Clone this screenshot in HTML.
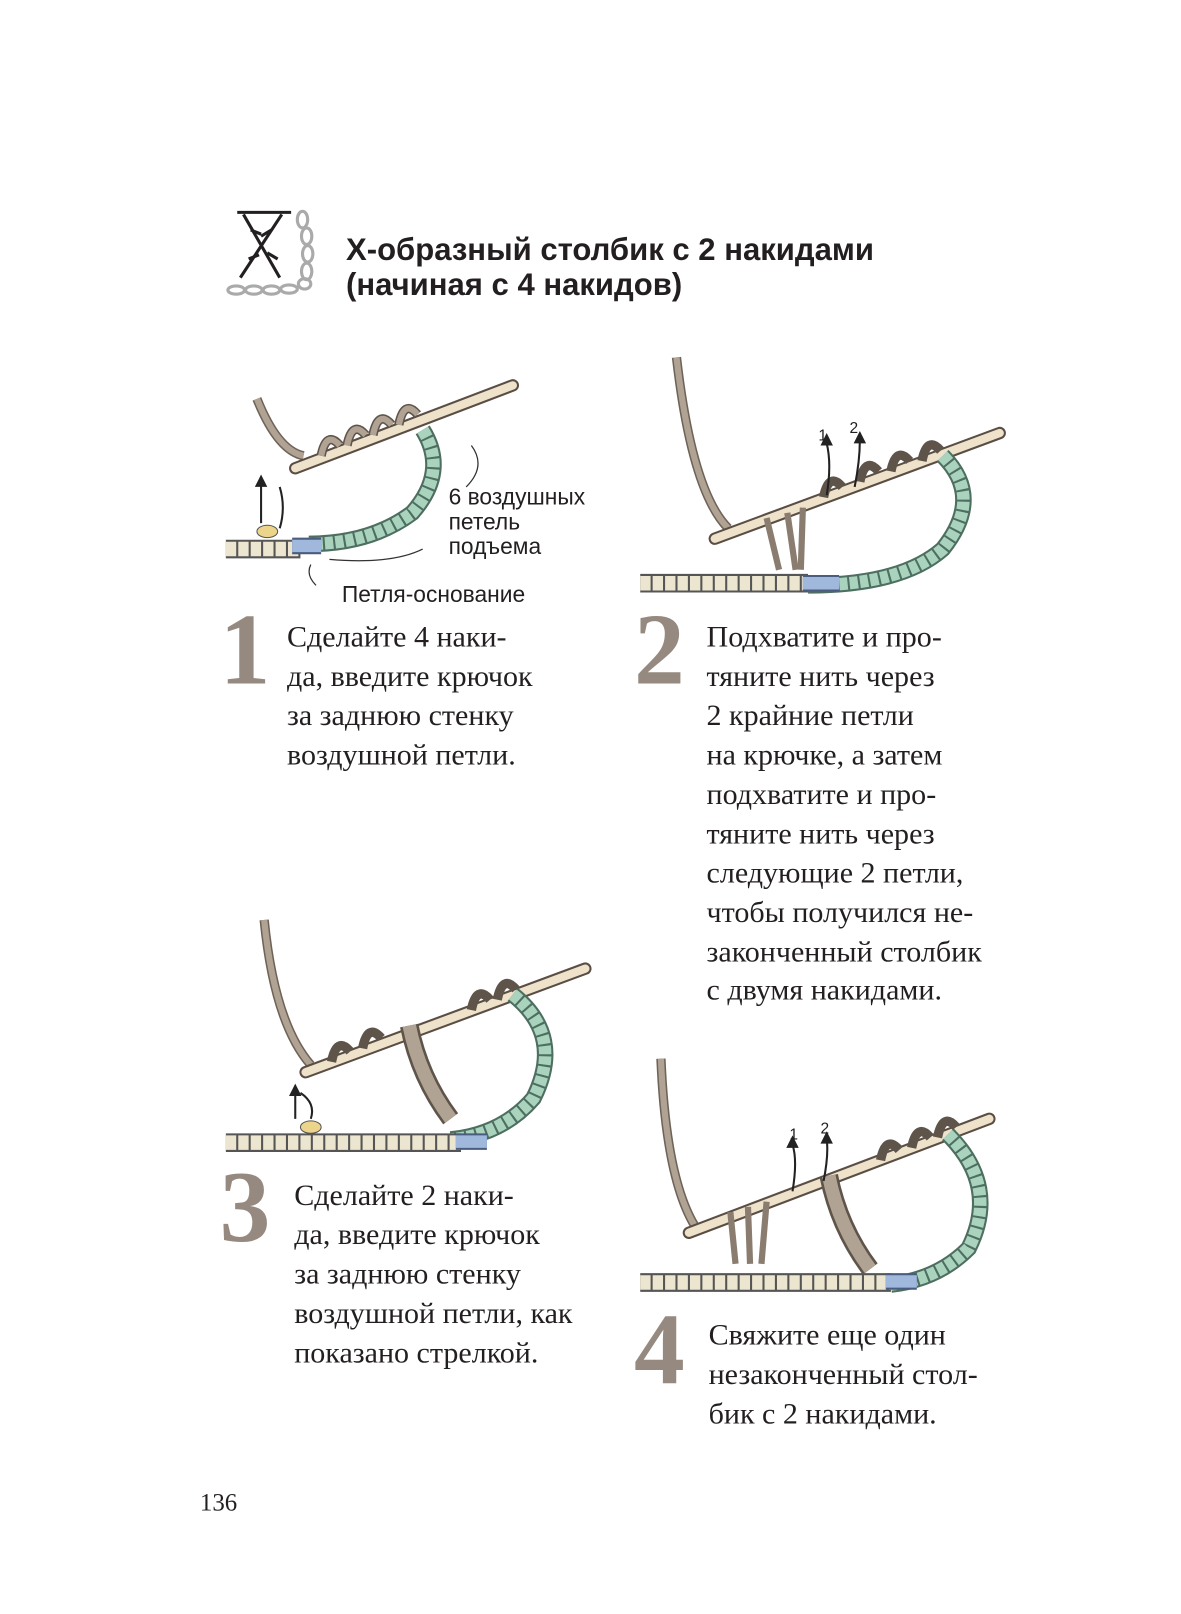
<!DOCTYPE html>
<html><head><meta charset="utf-8"><style>
html,body{margin:0;padding:0;background:#fff;width:1181px;height:1614px;overflow:hidden}
svg{display:block}
.t{font-family:"Liberation Serif",serif;font-size:29px;fill:#231f20}
.d{font-family:"Liberation Serif",serif;font-size:98px;fill:#968a80;font-weight:bold}
.s{font-family:"Liberation Sans",sans-serif;font-size:22px;fill:#231f20}
.h{font-family:"Liberation Sans",sans-serif;font-size:30px;font-weight:bold;fill:#231f20}
</style></head><body>
<svg width="1181" height="1614" viewBox="0 0 1140 1558" xmlns="http://www.w3.org/2000/svg">
<!-- header icon -->
<g stroke="#231f20" stroke-width="3" fill="none">
<line x1="229" y1="205" x2="281" y2="205"/>
<line x1="235" y1="207" x2="270" y2="268"/>
<line x1="272" y1="207" x2="232" y2="268"/>
<line x1="242" y1="222" x2="252" y2="226"/><line x1="262" y1="222" x2="252" y2="228"/>
<line x1="240" y1="250" x2="250" y2="246"/><line x1="258" y1="244" x2="268" y2="250"/>
</g>
<g fill="none" stroke="#aaa" stroke-width="3">
<ellipse cx="292" cy="212" rx="5" ry="8"/><ellipse cx="296" cy="228" rx="5" ry="8"/><ellipse cx="297" cy="245" rx="5" ry="8"/><ellipse cx="296" cy="262" rx="5" ry="8"/>
<ellipse cx="228" cy="280" rx="8" ry="4"/><ellipse cx="245" cy="280" rx="8" ry="4"/><ellipse cx="262" cy="280" rx="8" ry="4"/><ellipse cx="279" cy="279" rx="8" ry="4"/><ellipse cx="294" cy="274" rx="6" ry="5"/>
</g>
<text class="h" x="334" y="251">Х-образный столбик с 2 накидами</text>
<text class="h" x="334" y="285">(начиная с 4 накидов)</text>

<!-- Panel 1 -->
<g>
<path d="M248 385 q20 50 45 55" fill="none" stroke="#6e6358" stroke-width="9"/>
<path d="M248 385 q20 50 45 55" fill="none" stroke="#b1a393" stroke-width="6"/>
<line x1="285" y1="452" x2="495" y2="372" stroke="#5a4e44" stroke-width="12" stroke-linecap="round"/>
<line x1="285" y1="452" x2="495" y2="372" stroke="#efe2cb" stroke-width="8" stroke-linecap="round"/>
<g fill="none" stroke="#5e544a" stroke-width="9"><path d="M310 440 q5 -25 18 -10 M335 430 q5 -25 18 -10 M360 420 q5 -25 18 -10 M385 410 q5 -25 18 -10"/></g>
<g fill="none" stroke="#b1a393" stroke-width="6"><path d="M310 440 q5 -25 18 -10 M335 430 q5 -25 18 -10 M360 420 q5 -25 18 -10 M385 410 q5 -25 18 -10"/></g>
<g fill="none" stroke="#4d6e60" stroke-width="16"><path d="M408 415 q25 40 -10 80 q-40 30 -100 30"/></g>
<g fill="none" stroke="#a9d3bd" stroke-width="12" stroke-dasharray="8 2"><path d="M408 415 q25 40 -10 80 q-40 30 -100 30"/></g>
<line x1="218" y1="530" x2="290" y2="530" stroke="#555" stroke-width="18"/>
<line x1="218" y1="530" x2="290" y2="530" stroke="#ece5cf" stroke-width="14" stroke-dasharray="10 2"/>
<line x1="282" y1="527" x2="310" y2="527" stroke="#4a5d80" stroke-width="16"/>
<line x1="282" y1="527" x2="310" y2="527" stroke="#9fb8dc" stroke-width="12"/>
<ellipse cx="258" cy="513" rx="10" ry="6" fill="#ecd58a" stroke="#555"/>
<path d="M252 505 v-38" stroke="#222" stroke-width="2"/><path d="M246 470 l6 -12 l6 12z" fill="#222"/>
<path d="M270 510 q6 -20 0 -40" stroke="#222" stroke-width="2" fill="none"/>
<path d="M455 430 q15 20 -5 40 M408 530 q-30 15 -90 10 M300 545 q-5 10 5 20" fill="none" stroke="#333" stroke-width="1.2"/>
</g>
<text class="s" x="433" y="487">6 воздушных</text>
<text class="s" x="433" y="511">петель</text>
<text class="s" x="433" y="535">подъема</text>
<text class="s" x="330" y="581">Петля-основание</text>

<!-- Panel 2 -->
<g>
<path d="M653 345 q15 130 50 165" fill="none" stroke="#6e6358" stroke-width="9"/>
<path d="M653 345 q15 130 50 165" fill="none" stroke="#b1a393" stroke-width="6"/>
<line x1="690" y1="520" x2="965" y2="418" stroke="#5a4e44" stroke-width="12" stroke-linecap="round"/>
<line x1="690" y1="520" x2="965" y2="418" stroke="#efe2cb" stroke-width="8" stroke-linecap="round"/>
<path d="M740 500 l12 50 M760 495 l8 55 M775 490 l-2 60" stroke="#8a7d70" stroke-width="6" fill="none"/>
<g fill="none" stroke="#5e544a" stroke-width="9"><path d="M795 480 q5 -25 18 -10 M830 465 q5 -25 18 -10 M860 455 q5 -25 18 -10 M890 445 q5 -25 18 -10"/></g>
<g fill="none" stroke="#4d6e60" stroke-width="16"><path d="M910 440 q40 40 0 90 q-40 35 -130 35"/></g>
<g fill="none" stroke="#a9d3bd" stroke-width="12" stroke-dasharray="8 2"><path d="M910 440 q40 40 0 90 q-40 35 -130 35"/></g>
<line x1="618" y1="563" x2="780" y2="563" stroke="#555" stroke-width="18"/>
<line x1="618" y1="563" x2="780" y2="563" stroke="#ece5cf" stroke-width="14" stroke-dasharray="10 2"/>
<line x1="775" y1="563" x2="810" y2="563" stroke="#4a5d80" stroke-width="16"/>
<line x1="775" y1="563" x2="810" y2="563" stroke="#9fb8dc" stroke-width="12"/>
<path d="M798 478 q5 -30 0 -50 M825 470 q5 -25 5 -45" stroke="#222" stroke-width="2" fill="none"/>
<path d="M792 430 l6 -12 l6 12z M824 428 l6 -12 l6 12z" fill="#222"/>
<text class="s" x="790" y="425" style="font-size:15px">1</text><text class="s" x="820" y="418" style="font-size:15px">2</text>
</g>

<!-- Panel 3 -->
<g>
<path d="M255 888 q10 100 45 140" fill="none" stroke="#6e6358" stroke-width="9"/>
<path d="M255 888 q10 100 45 140" fill="none" stroke="#b1a393" stroke-width="6"/>
<line x1="295" y1="1035" x2="565" y2="935" stroke="#5a4e44" stroke-width="12" stroke-linecap="round"/>
<line x1="295" y1="1035" x2="565" y2="935" stroke="#efe2cb" stroke-width="8" stroke-linecap="round"/>
<path d="M395 990 q10 50 40 90" stroke="#5e544a" stroke-width="18" fill="none"/>
<path d="M395 990 q10 50 40 90" stroke="#b1a393" stroke-width="13" fill="none"/>
<g fill="none" stroke="#5e544a" stroke-width="9"><path d="M320 1025 q5 -25 18 -10 M350 1012 q5 -25 18 -10 M455 975 q5 -25 18 -10 M480 965 q5 -25 18 -10"/></g>
<g fill="none" stroke="#4d6e60" stroke-width="16"><path d="M495 960 q50 40 20 100 q-30 35 -80 40"/></g>
<g fill="none" stroke="#a9d3bd" stroke-width="12" stroke-dasharray="8 2"><path d="M495 960 q50 40 20 100 q-30 35 -80 40"/></g>
<line x1="218" y1="1103" x2="445" y2="1103" stroke="#555" stroke-width="18"/>
<line x1="218" y1="1103" x2="445" y2="1103" stroke="#ece5cf" stroke-width="14" stroke-dasharray="10 2"/>
<line x1="440" y1="1102" x2="470" y2="1102" stroke="#4a5d80" stroke-width="16"/>
<line x1="440" y1="1102" x2="470" y2="1102" stroke="#9fb8dc" stroke-width="12"/>
<ellipse cx="300" cy="1088" rx="10" ry="6" fill="#ecd58a" stroke="#555"/>
<path d="M285 1080 v-25 M300 1080 q5 -15 -10 -25" stroke="#222" stroke-width="2" fill="none"/><path d="M279 1058 l6 -12 l6 12z" fill="#222"/>
</g>

<!-- Panel 4 -->
<g>
<path d="M638 1022 q5 120 35 165" fill="none" stroke="#6e6358" stroke-width="9"/>
<path d="M638 1022 q5 120 35 165" fill="none" stroke="#b1a393" stroke-width="6"/>
<line x1="665" y1="1190" x2="955" y2="1080" stroke="#5a4e44" stroke-width="12" stroke-linecap="round"/>
<line x1="665" y1="1190" x2="955" y2="1080" stroke="#efe2cb" stroke-width="8" stroke-linecap="round"/>
<path d="M705 1170 l5 50 M722 1165 l2 55 M740 1160 l-5 60" stroke="#8a7d70" stroke-width="6" fill="none"/>
<path d="M800 1135 q10 50 40 90" stroke="#5e544a" stroke-width="18" fill="none"/>
<path d="M800 1135 q10 50 40 90" stroke="#b1a393" stroke-width="13" fill="none"/>
<g fill="none" stroke="#5e544a" stroke-width="9"><path d="M850 1120 q5 -25 18 -10 M880 1108 q5 -25 18 -10 M905 1098 q5 -25 18 -10"/></g>
<g fill="none" stroke="#4d6e60" stroke-width="16"><path d="M915 1095 q50 50 20 110 q-30 30 -75 35"/></g>
<g fill="none" stroke="#a9d3bd" stroke-width="12" stroke-dasharray="8 2"><path d="M915 1095 q50 50 20 110 q-30 30 -75 35"/></g>
<line x1="618" y1="1238" x2="860" y2="1238" stroke="#555" stroke-width="18"/>
<line x1="618" y1="1238" x2="860" y2="1238" stroke="#ece5cf" stroke-width="14" stroke-dasharray="10 2"/>
<line x1="855" y1="1237" x2="885" y2="1237" stroke="#4a5d80" stroke-width="16"/>
<line x1="855" y1="1237" x2="885" y2="1237" stroke="#9fb8dc" stroke-width="12"/>
<path d="M765 1150 q5 -30 0 -45 M795 1140 q5 -25 3 -40" stroke="#222" stroke-width="2" fill="none"/>
<path d="M759 1108 l6 -12 l6 12z M792 1104 l6 -12 l6 12z" fill="#222"/>
<text class="s" x="762" y="1100" style="font-size:15px">1</text><text class="s" x="792" y="1094" style="font-size:15px">2</text>
</g>

<!-- Step texts -->
<text class="d" x="212" y="660">1</text>
<text class="t" x="277" y="624">Сделайте 4 наки-</text>
<text class="t" x="277" y="662">да, введите крючок</text>
<text class="t" x="277" y="700">за заднюю стенку</text>
<text class="t" x="277" y="738">воздушной петли.</text>

<text class="d" x="612" y="660">2</text>
<text class="t" x="682" y="624">Подхватите и про-</text>
<text class="t" x="682" y="662">тяните нить через</text>
<text class="t" x="682" y="700">2 крайние петли</text>
<text class="t" x="682" y="738">на крючке, а затем</text>
<text class="t" x="682" y="776">подхватите и про-</text>
<text class="t" x="682" y="814">тяните нить через</text>
<text class="t" x="682" y="852">следующие 2 петли,</text>
<text class="t" x="682" y="890">чтобы получился не-</text>
<text class="t" x="682" y="928">законченный столбик</text>
<text class="t" x="682" y="965">с двумя накидами.</text>

<text class="d" x="212" y="1198">3</text>
<text class="t" x="284" y="1163">Сделайте 2 наки-</text>
<text class="t" x="284" y="1201">да, введите крючок</text>
<text class="t" x="284" y="1239">за заднюю стенку</text>
<text class="t" x="284" y="1277">воздушной петли, как</text>
<text class="t" x="284" y="1315">показано стрелкой.</text>

<text class="d" x="612" y="1335">4</text>
<text class="t" x="684" y="1298">Свяжите еще один</text>
<text class="t" x="684" y="1336">незаконченный стол-</text>
<text class="t" x="684" y="1374">бик с 2 накидами.</text>

<text class="t" x="193" y="1458" style="font-size:24px">136</text>
</svg>
</body></html>
